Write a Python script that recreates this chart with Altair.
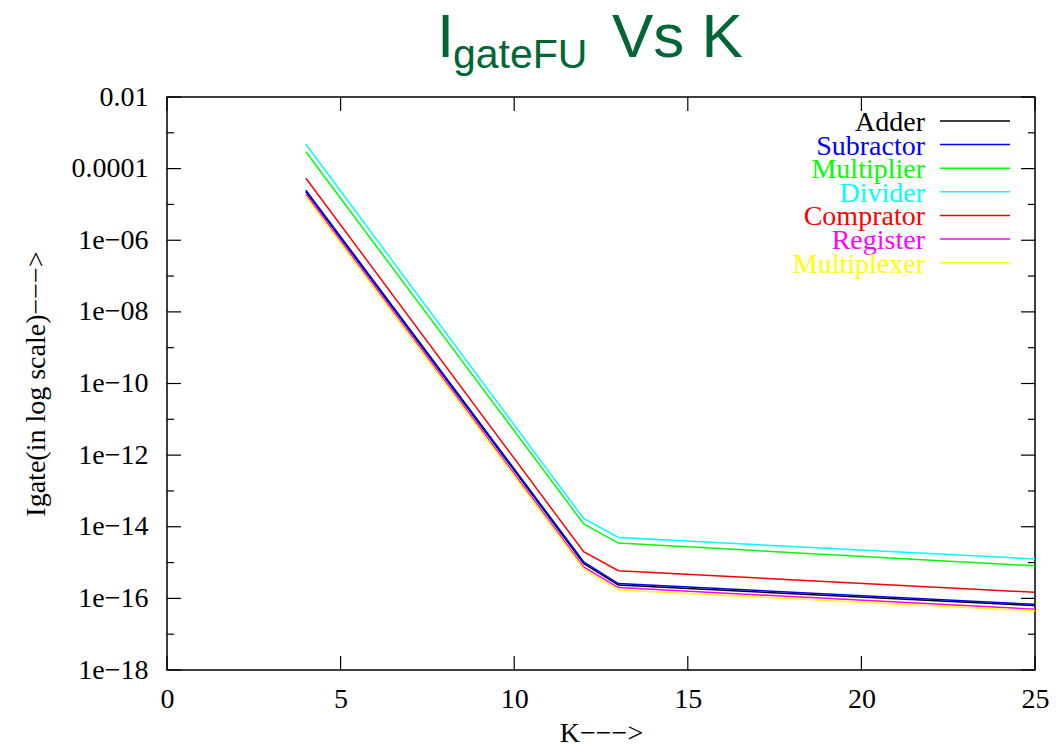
import altair as alt
import pandas as pd

# ---------------- data ----------------
K = [4, 12, 13, 25]
series_names = ["Adder", "Subractor", "Multiplier", "Divider", "Comprator", "Register", "Multiplexer"]
series_colors = ["#000000", "#0000ff", "#00ff00", "#00ffff", "#ff0000", "#ff00ff", "#ffff00"]

adder       = [2.3e-5, 9.5e-16, 2.35e-16, 6.3e-17]
subractor   = [2.5e-5, 1.05e-15, 2.6e-16, 6.8e-17]
multiplier  = [2.95e-4, 1.2e-14, 3.5e-15, 8.1e-16]
divider     = [4.8e-4, 1.7e-14, 5.0e-15, 1.26e-15]
comprator   = [5.4e-5, 2.0e-15, 5.9e-16, 1.48e-16]
register    = [1.95e-5, 7.6e-16, 2.0e-16, 5.0e-17]
multiplexer = [1.66e-5, 6.6e-16, 1.7e-16, 4.5e-17]

y_major_ticks = [1e-18, 1e-16, 1e-14, 1e-12, 1e-10, 1e-8, 1e-6, 1e-4, 1e-2]
y_minor_ticks = [1e-17, 1e-15, 1e-13, 1e-11, 1e-9, 1e-7, 1e-5, 1e-3]
x_major_ticks = [0, 5, 10, 15, 20, 25]

title_main = "I"
title_sub = "gateFU"
title_rest = "Vs K"
x_title = "K\u2212\u2212\u2212>"
y_title = "Igate(in log scale)\u2212\u2212\u2212>"

# ---------------- tables ----------------
all_vals = [adder, subractor, multiplier, divider, comprator, register, multiplexer]
rows = []
for name, vals in zip(series_names, all_vals):
    for k, v in zip(K, vals):
        rows.append({"series": name, "K": k, "value": v})
df = pd.DataFrame(rows)
df_leg = pd.DataFrame({"series": series_names})

W, H = 868, 573
SERIF = "Liberation Serif"
SANS = "Liberation Sans"

xscale = alt.Scale(domain=[0, 25], nice=False, zero=False)
yscale = alt.Scale(type="log", domain=[1e-18, 1e-2], nice=False)
cscale = alt.Scale(domain=series_names, range=series_colors)

label_expr = (
    "datum.value == 0.01 ? '0.01' : datum.value == 0.0001 ? '0.0001' : "
    "'1e\u2212' + (round(-log(datum.value)/LN10) < 10 ? '0' : '') + round(-log(datum.value)/LN10)"
)

x_axis = alt.Axis(values=x_major_ticks, ticks=False, domain=False, grid=False,
                  labelFlush=False, labelPadding=15, title=x_title, titlePadding=6)
y_axis = alt.Axis(values=y_major_ticks, labelExpr=label_expr, ticks=False,
                  domain=False, grid=False, labelFlush=False, labelPadding=19,
                  title=y_title, titlePadding=21)

lines = alt.Chart(df).mark_line(strokeWidth=1.5, clip=True).encode(
    x=alt.X("K:Q", scale=xscale, axis=x_axis),
    y=alt.Y("value:Q", scale=yscale, axis=y_axis),
    color=alt.Color("series:N", scale=cscale, legend=None),
    order=alt.Order("K:Q"),
)

dfy_major = pd.DataFrame({"v": y_major_ticks})
dfy_minor = pd.DataFrame({"v": y_minor_ticks})
dfx_major = pd.DataFrame({"v": x_major_ticks})

def yticks(d, x0, x1):
    return alt.Chart(d).mark_rule(color="black", strokeWidth=1.2).encode(
        y=alt.Y("v:Q", scale=yscale, axis=y_axis),
        x=alt.value(x0), x2=alt.value(x1))

def xticks(d, y0, y1):
    return alt.Chart(d).mark_rule(color="black", strokeWidth=1.2).encode(
        x=alt.X("v:Q", scale=xscale, axis=x_axis),
        y=alt.value(y0), y2=alt.value(y1))

main = alt.layer(
    lines,
    yticks(dfy_major, 0, 14), yticks(dfy_major, W - 14, W),
    yticks(dfy_minor, 0, 7), yticks(dfy_minor, W - 7, W),
    xticks(dfx_major, H, H - 14), xticks(dfx_major, 0, 14),
)

leg_y = alt.Y("series:N", sort=series_names,
              scale=alt.Scale(type="point", domain=series_names, range=[24, 165.7], padding=0),
              axis=None)
leg_text = alt.Chart(df_leg).mark_text(align="right", baseline="alphabetic", dy=10,
                                       font=SERIF, fontSize=28).encode(
    x=alt.value(758), y=leg_y, text="series:N",
    color=alt.Color("series:N", scale=cscale, legend=None))
leg_rule = alt.Chart(df_leg).mark_rule(strokeWidth=1.5).encode(
    x=alt.value(773), x2=alt.value(843), y=leg_y,
    color=alt.Color("series:N", scale=cscale, legend=None))
legend = alt.layer(leg_text, leg_rule)

tdf = pd.DataFrame({"a": [title_main], "b": [title_sub], "c": [title_rest]})
t1 = alt.Chart(tdf).mark_text(align="left", baseline="alphabetic", font=SANS,
                              fontSize=62, color="#006633").encode(
    x=alt.value(270), y=alt.value(-40), text="a:N")
t2 = alt.Chart(tdf).mark_text(align="left", baseline="alphabetic", font=SANS,
                              fontSize=41, color="#006633").encode(
    x=alt.value(286), y=alt.value(-29), text="b:N")
t3 = alt.Chart(tdf).mark_text(align="left", baseline="alphabetic", font=SANS,
                              fontSize=62, color="#006633").encode(
    x=alt.value(445), y=alt.value(-40), text="c:N")

chart = alt.layer(main, legend, t1, t2, t3).resolve_scale(y="independent").properties(
    width=W, height=H,
    autosize=alt.AutoSizeParams(type="none"),
    padding={"left": 167, "top": 97, "right": 22, "bottom": 74},
    background="white",
).configure_view(stroke="black", strokeWidth=1.5).configure_axis(
    labelFont=SERIF, labelFontSize=28, labelColor="black",
    titleFont=SERIF, titleFontSize=28, titleFontWeight="normal", titleColor="black",
)

chart.save("out.html", embed_options={"renderer": "svg", "actions": False})
